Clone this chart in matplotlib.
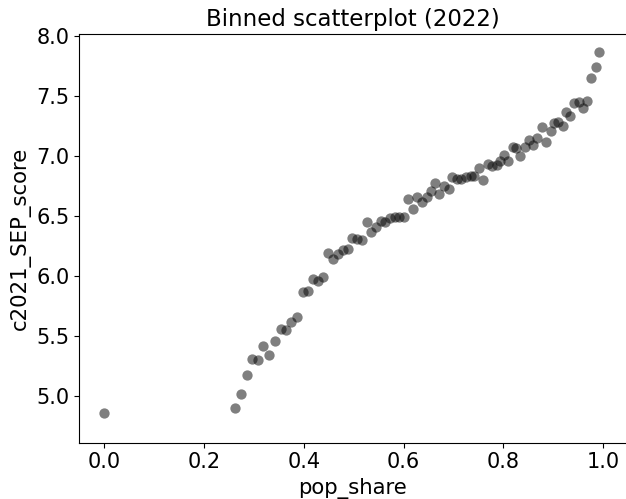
import matplotlib
matplotlib.use("Agg")
import matplotlib.pyplot as plt

pop_share = [0.000, 0.261, 0.273, 0.285, 0.295, 0.307, 0.319, 0.330, 0.342, 0.354,
             0.364, 0.375, 0.386, 0.398, 0.409, 0.418, 0.429, 0.439, 0.449, 0.459,
             0.469, 0.479, 0.488, 0.497, 0.507, 0.516, 0.526, 0.535, 0.544, 0.554,
             0.563, 0.573, 0.582, 0.591, 0.601, 0.609, 0.618, 0.627, 0.637, 0.646,
             0.654, 0.663, 0.671, 0.681, 0.690, 0.697, 0.706, 0.715, 0.724, 0.734,
             0.741, 0.750, 0.759, 0.768, 0.777, 0.786, 0.793, 0.801, 0.810, 0.820,
             0.826, 0.834, 0.843, 0.851, 0.860, 0.868, 0.877, 0.885, 0.895, 0.902,
             0.910, 0.919, 0.926, 0.934, 0.942, 0.951, 0.959, 0.968, 0.976, 0.985,
             0.992]
sep_score = [4.858, 4.900, 5.017, 5.172, 5.310, 5.297, 5.417, 5.344, 5.456, 5.558,
             5.550, 5.617, 5.658, 5.867, 5.878, 5.978, 5.961, 5.989, 6.189, 6.142,
             6.181, 6.217, 6.228, 6.317, 6.306, 6.300, 6.447, 6.367, 6.406, 6.461,
             6.450, 6.483, 6.494, 6.489, 6.494, 6.642, 6.558, 6.656, 6.619, 6.661,
             6.711, 6.772, 6.683, 6.750, 6.722, 6.828, 6.806, 6.806, 6.822, 6.833,
             6.833, 6.900, 6.803, 6.933, 6.920, 6.922, 6.961, 7.006, 6.956, 7.072,
             7.070, 7.000, 7.075, 7.130, 7.089, 7.150, 7.240, 7.118, 7.205, 7.272,
             7.285, 7.250, 7.367, 7.330, 7.444, 7.453, 7.397, 7.461, 7.647, 7.744,
             7.867]

fig = plt.figure(figsize=(6.26, 4.99), dpi=100)
ax = fig.add_axes([0.1267, 0.1132, 0.8733, 0.8187])

ax.scatter(pop_share, sep_score, s=55, color="black", alpha=0.5, linewidths=0)

ax.set_xlim(-0.0501, 1.0455)
ax.set_ylim(4.6125, 8.0167)
ax.set_xticks([0.0, 0.2, 0.4, 0.6, 0.8, 1.0])
ax.set_yticks([5.0, 5.5, 6.0, 6.5, 7.0, 7.5, 8.0])
ax.spines["right"].set_visible(False)
ax.tick_params(labelsize=15)

ax.set_title("Binned scatterplot (2022)", fontsize=16.5)
ax.set_xlabel("pop_share", fontsize=15.3)
ax.set_ylabel("c2021_SEP_score", fontsize=15.3)

fig.savefig("out.png", dpi=100)
